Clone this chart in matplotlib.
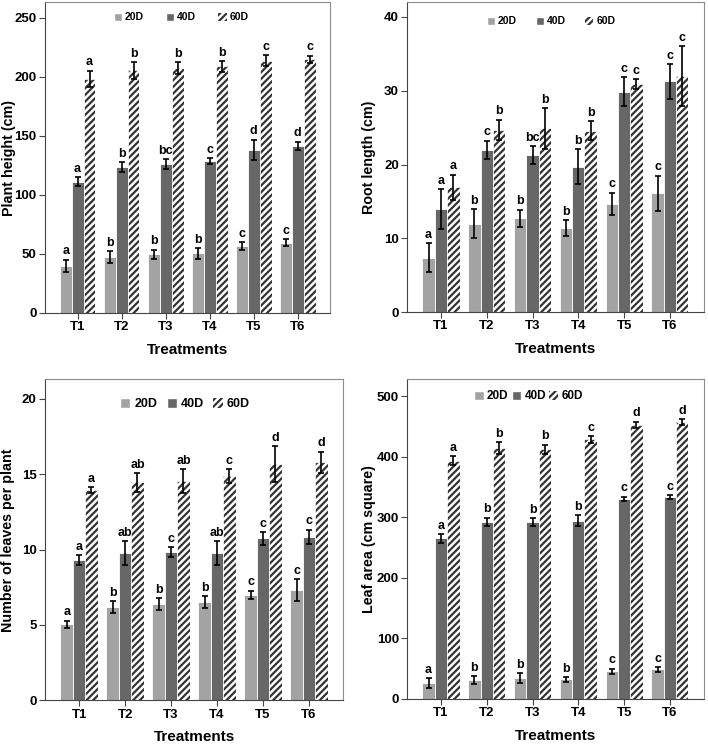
import numpy as np
import matplotlib.pyplot as plt
from matplotlib.patches import Patch

plt.rcParams['font.family'] = ['Liberation Sans', 'DejaVu Sans']
plt.rcParams['hatch.linewidth'] = 1.6

treatments = ['T1', 'T2', 'T3', 'T4', 'T5', 'T6']
series = ['20D', '40D', '60D']

# Plant height (cm)
height_mean = [[40, 47.5, 49.5, 50.5, 56.5, 59.5],
               [111, 123.6, 126, 128.5, 138, 141.3],
               [198, 205.3, 207.2, 208.7, 213.5, 214.8]]
height_err = [[5, 5, 4, 4.5, 3.5, 2.8],
              [3.7, 4.2, 4, 2.5, 8.5, 3.5],
              [7, 7, 5, 4.5, 4.5, 3]]
height_let = [['a', 'b', 'b', 'b', 'c', 'c'],
              ['a', 'b', 'bc', 'c', 'd', 'd'],
              ['a', 'b', 'b', 'b', 'c', 'c']]

# Root length (cm)
root_mean = [[7.4, 12.0, 12.7, 11.4, 14.7, 16.1],
             [14.0, 22.0, 21.3, 19.7, 29.9, 31.3],
             [16.9, 24.7, 24.9, 24.6, 30.9, 32.0]]
root_err = [[2.0, 2.0, 1.2, 1.1, 1.5, 2.4],
            [2.7, 1.25, 1.2, 2.35, 1.95, 2.35],
            [1.75, 1.4, 2.75, 1.3, 0.7, 4.1]]
root_let = [['a', 'b', 'b', 'b', 'c', 'c'],
            ['a', 'c', 'bc', 'b', 'c', 'c'],
            ['a', 'b', 'b', 'b', 'c', 'c']]

# Number of leaves per plant
leaves_mean = [[5.05, 6.2, 6.4, 6.5, 7.0, 7.3],
               [9.3, 9.75, 9.82, 9.75, 10.75, 10.85],
               [13.93, 14.45, 14.55, 14.87, 15.67, 15.8]]
leaves_err = [[0.23, 0.4, 0.4, 0.4, 0.28, 0.72],
              [0.35, 0.8, 0.33, 0.8, 0.43, 0.48],
              [0.2, 0.6, 0.78, 0.45, 1.2, 0.7]]
leaves_let = [['a', 'b', 'b', 'b', 'c', 'c'],
              ['a', 'ab', 'c', 'ab', 'c', 'c'],
              ['a', 'ab', 'ab', 'c', 'd', 'd']]

# Leaf area (cm square)
area_mean = [[26, 31, 34, 32, 45.7, 48.5],
             [265, 292.4, 291.9, 294.1, 330, 333.2],
             [393.2, 414.1, 412, 428.4, 452.7, 457.1]]
area_err = [[8, 6, 8, 3.5, 4, 3.5],
            [7, 7, 6.6, 8.8, 3.6, 3.6],
            [7.7, 10, 8, 5.8, 5.2, 4.7]]
area_let = [['a', 'b', 'b', 'b', 'c', 'c'],
            ['a', 'b', 'b', 'b', 'c', 'c'],
            ['a', 'b', 'b', 'c', 'd', 'd']]

colors = ['#a3a3a3', '#676767', 'white']
hatch_col = '#333333'


def draw_panel(ax, means, errs, letters, ylabel, ymax, yticks, pad,
               leg_xy, leg_gap, leg_size, ylab_x):
    x = np.arange(len(treatments))
    w = 0.27
    for i in range(3):
        pos = x + (i - 1) * w
        if i == 2:
            # hatched bars: hatch takes the edge colour, white outline on top
            ax.bar(pos, means[i], w, color='white', edgecolor=hatch_col,
                   linewidth=0, hatch='/////', zorder=2)
            ax.bar(pos, means[i], w, fill=False, edgecolor='white',
                   linewidth=0.6, zorder=2)
        else:
            ax.bar(pos, means[i], w, color=colors[i], edgecolor='white',
                   linewidth=0.6, zorder=2)
        ax.errorbar(pos, means[i], yerr=errs[i], fmt='none', ecolor='black',
                    elinewidth=1.2, capsize=2, capthick=1.2, zorder=3)
        for p, m, e, t in zip(pos, means[i], errs[i], letters[i]):
            ax.text(p, m + e + pad, t, ha='center', va='bottom',
                    fontsize=9, fontweight='bold')
    ax.set_xlim(-0.74, 5.74)
    ax.set_ylim(0, ymax)
    ax.set_yticks(yticks)
    ax.set_xticks(x)
    ax.set_xticklabels(treatments)
    ax.set_ylabel(ylabel, fontsize=10.3, fontweight='bold')
    ax.yaxis.set_label_coords(ylab_x, 0.5)
    ax.set_xlabel('Treatments', fontsize=11, fontweight='bold', labelpad=7)
    for s in ax.spines.values():
        s.set_color('#8c8c8c')
    ax.spines['left'].set_color('#444444')
    ax.spines['bottom'].set_color('#444444')
    ax.tick_params(axis='both', labelsize=9.5, direction='out', length=4,
                   color='#444444', pad=2)
    for lab in ax.get_xticklabels() + ax.get_yticklabels():
        lab.set_fontweight('bold')
    handles = [Patch(facecolor=colors[0], edgecolor='white', label=series[0]),
               Patch(facecolor=colors[1], edgecolor='white', label=series[1]),
               Patch(facecolor='white', edgecolor=hatch_col, linewidth=0,
                     hatch='/////', label=series[2])]
    ax.legend(handles=handles, loc='center', ncol=3, frameon=False,
              handlelength=0.8, handleheight=0.8, handletextpad=0.3,
              columnspacing=leg_gap, bbox_to_anchor=leg_xy, borderpad=0,
              prop={'weight': 'bold', 'size': leg_size})


fig = plt.figure(figsize=(7.08, 7.45), dpi=100)
ax1 = fig.add_axes([0.0636, 0.580, 0.403, 0.417])
ax2 = fig.add_axes([0.575, 0.581, 0.419, 0.416])
ax3 = fig.add_axes([0.0636, 0.060, 0.421, 0.431])
ax4 = fig.add_axes([0.575, 0.062, 0.419, 0.429])

draw_panel(ax1, height_mean, height_err, height_let, 'Plant height (cm)',
           263, [0, 50, 100, 150, 200, 250], 2, (0.477, 0.952), 2.1, 7.5, -0.1)
draw_panel(ax2, root_mean, root_err, root_let, 'Root length (cm)',
           42, [0, 10, 20, 30, 40], 0.3, (0.485, 0.939), 1.8, 7.5, -0.105)
draw_panel(ax3, leaves_mean, leaves_err, leaves_let, 'Number of leaves per plant',
           21.3, [0, 5, 10, 15, 20], 0.15, (0.47, 0.922), 0.75, 9, -0.1)
draw_panel(ax4, area_mean, area_err, area_let, 'Leaf area (cm square)',
           528, [0, 100, 200, 300, 400, 500], 4, (0.41, 0.947), 0.25, 8.5, -0.105)

fig.savefig('out.png', dpi=100)
